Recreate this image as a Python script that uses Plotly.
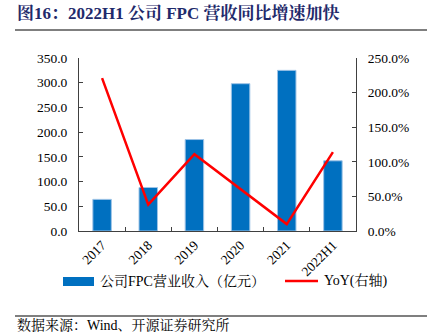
import plotly.graph_objects as go

categories = ["2017", "2018", "2019", "2020", "2021", "2022H1"]
revenue = [64, 88, 185, 298, 325, 142]
yoy = [221, 38, 111, 60, 10, 114]
left_ticks = [0, 50, 100, 150, 200, 250, 300, 350]
right_ticks = [0, 50, 100, 150, 200, 250]

W, H = 432, 335
ML, MR, MT, MB = 79, 76, 58, 104
PW, PH = W - ML - MR, H - MT - MB
serif = "Liberation Serif, Noto Serif CJK SC, Noto Sans CJK SC, serif"

fig = go.Figure()
fig.add_trace(go.Bar(x=categories, y=revenue, marker=dict(color="#0070C0", line=dict(color="#9DC3E6", width=1)),
                     name="公司FPC营业收入（亿元）", showlegend=False))
fig.add_trace(go.Scatter(x=categories, y=yoy, mode="lines", line=dict(color="#FF0000", width=2.5),
                         yaxis="y2", name="YoY(右轴)", showlegend=False))

axis_common = dict(showgrid=False, zeroline=False, showline=True, linecolor="#404040", linewidth=1,
                   ticks="inside", ticklen=4, tickcolor="#404040",
                   tickfont=dict(family=serif, size=13.5, color="#000"))

fig.update_layout(
    width=W, height=H, margin=dict(l=ML, r=MR, t=MT, b=MB),
    plot_bgcolor="white", paper_bgcolor="white", bargap=0.6,
    xaxis=dict(**axis_common, tickangle=-45, tickson="boundaries", type="category"),
    yaxis=dict(**axis_common, range=[0, 350], tickvals=left_ticks,
               ticktext=[f"{v:.1f}" for v in left_ticks], ticklabelstandoff=8),
    yaxis2=dict(**axis_common, range=[0, 250], tickvals=right_ticks, overlaying="y", side="right",
                ticktext=[f"{v:.1f}%" for v in right_ticks], ticklabelstandoff=8),
)

def px_x(x):
    return (x - ML) / PW

def px_y(y):
    return (H - MB - y) / PH

# title and rules
fig.add_annotation(text="<b>图16：2022H1 公司 FPC 营收同比增速加快</b>", xref="paper", yref="paper",
                   x=px_x(15), y=px_y(13), xanchor="left", yanchor="middle", showarrow=False,
                   font=dict(family=serif, size=17, color="#1F2A6B"))
fig.add_shape(type="line", xref="paper", yref="paper", x0=px_x(15), x1=px_x(427), y0=px_y(30), y1=px_y(30),
              line=dict(color="#555555", width=1.5))
fig.add_shape(type="line", xref="paper", yref="paper", x0=px_x(15), x1=px_x(427), y0=px_y(316), y1=px_y(316),
              line=dict(color="#555555", width=1.5))
fig.add_annotation(text="数据来源：Wind、开源证券研究所", xref="paper", yref="paper",
                   x=px_x(15), y=px_y(325), xanchor="left", yanchor="middle", showarrow=False,
                   font=dict(family=serif, size=14, color="#000"))

# legend
fig.add_shape(type="rect", xref="paper", yref="paper", x0=px_x(63), x1=px_x(94), y0=px_y(277), y1=px_y(286),
              fillcolor="#0070C0", line=dict(width=0))
fig.add_annotation(text="公司FPC营业收入（亿元）", xref="paper", yref="paper",
                   x=px_x(98), y=px_y(281), xanchor="left", yanchor="middle", showarrow=False,
                   font=dict(family=serif, size=14, color="#000"))
fig.add_shape(type="line", xref="paper", yref="paper", x0=px_x(285), x1=px_x(318), y0=px_y(281), y1=px_y(281),
              line=dict(color="#FF0000", width=2.5))
fig.add_annotation(text="YoY(右轴)", xref="paper", yref="paper",
                   x=px_x(322), y=px_y(281), xanchor="left", yanchor="middle", showarrow=False,
                   font=dict(family=serif, size=14, color="#000"))

fig.write_html("out.html")
